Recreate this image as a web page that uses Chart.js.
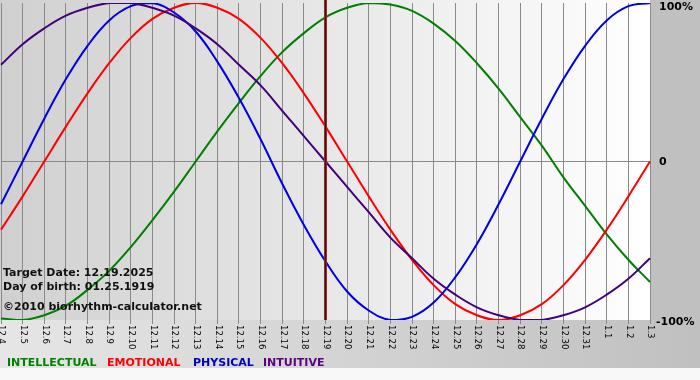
<!DOCTYPE html>
<html><head><meta charset="utf-8">
<script src="https://cdn.jsdelivr.net/npm/chart.js@4"></script>
<style>html,body{margin:0;padding:0;background:#fff;overflow:hidden}#wrap{width:700px;height:380px;position:relative}</style>
</head><body><div id="wrap"><canvas id="c" width="700" height="380"></canvas></div>
<script>
const dayLabels = ['12.4','12.5','12.6','12.7','12.8','12.9','12.10','12.11','12.12','12.13','12.14','12.15','12.16','12.17','12.18','12.19','12.20','12.21','12.22','12.23','12.24','12.25','12.26','12.27','12.28','12.29','12.30','12.31','1.1','1.2','1.3'];
const intellectual = [-99,-100,-97,-91,-81,-69,-54,-37,-19,0,19,37,54,69,81,91,97,100,99,95,87,76,62,46,28,10,-10,-28,-46,-62,-76];
const emotional = [-43,-22,0,22,43,62,78,90,97,100,97,90,78,62,43,22,0,-22,-43,-62,-78,-90,-97,-100,-97,-90,-78,-62,-43,-22,0];
const physical = [-27,0,27,52,73,89,98,100,94,82,63,40,14,-14,-40,-63,-82,-94,-100,-98,-89,-73,-52,-27,0,27,52,73,89,98,100];
const intuitive = [61,74,84,92,97,100,100,97,92,84,74,61,48,32,16,0,-16,-32,-48,-61,-74,-84,-92,-97,-100,-100,-97,-92,-84,-74,-61];
const seriesNames = ['INTELLECTUAL','EMOTIONAL','PHYSICAL','INTUITIVE'];
const targetLabel = '12.19';
const infoLines = ['Target Date: 12.19.2025','Day of birth: 01.25.1919','©2010 biorhythm-calculator.net'];
const yTickValues = [100, 0, -100];
const yTickLabels = ['100%', '0', '-100%'];

const lineColors = ['#008000', '#ff0000', '#0000e6', '#42007a'];
const legendColors = ['#008000', '#ff0000', '#0000c0', '#5a0080'];
const legendX = [7, 107, 193, 263];

const decor = {
  id: 'decor',
  beforeDraw(chart) {
    const ctx = chart.ctx, a = chart.chartArea;
    ctx.save();
    ctx.fillStyle = '#f8f8f8';
    ctx.fillRect(0, 0, 700, 380);
    let g = ctx.createLinearGradient(0, 0, 700, 0);
    g.addColorStop(0, '#e6e6e6'); g.addColorStop(1, '#c0c0c0');
    ctx.fillStyle = g;
    ctx.fillRect(0, a.bottom, 700, 368 - a.bottom);
    ctx.fillStyle = '#c0c0c0';
    ctx.fillRect(a.right, 0, 700 - a.right, a.bottom);
    g = ctx.createLinearGradient(a.left, 0, a.right, 0);
    g.addColorStop(0, '#d0d0d0'); g.addColorStop(1, '#ffffff');
    ctx.fillStyle = g;
    ctx.fillRect(0, 0, a.right, a.bottom);
    ctx.restore();
  },
  afterDatasetsDraw(chart) {
    const ctx = chart.ctx, a = chart.chartArea, xs = chart.scales.x;
    const x = xs.getPixelForValue(dayLabels.indexOf(targetLabel));
    ctx.save();
    ctx.strokeStyle = '#9a3a3a'; ctx.lineWidth = 3;
    ctx.beginPath(); ctx.moveTo(x, 0); ctx.lineTo(x, a.bottom); ctx.stroke();
    ctx.strokeStyle = '#5a0a0a'; ctx.lineWidth = 1.5;
    ctx.beginPath(); ctx.moveTo(x, 0); ctx.lineTo(x, a.bottom); ctx.stroke();
    ctx.restore();
  },
  afterDraw(chart) {
    const ctx = chart.ctx, a = chart.chartArea, xs = chart.scales.x, ys = chart.scales.y;
    ctx.save();
    ctx.fillStyle = '#000';
    ctx.font = '8.5px "DejaVu Sans"';
    ctx.textAlign = 'left'; ctx.textBaseline = 'middle';
    dayLabels.forEach((lab, i) => {
      const x = xs.getPixelForValue(i);
      ctx.save();
      ctx.translate(x + 0.5, a.bottom + 5);
      ctx.rotate(Math.PI / 2);
      ctx.fillText(lab, 0, 0);
      ctx.restore();
    });
    ctx.font = 'bold 11px "DejaVu Sans"';
    ctx.textBaseline = 'middle';
    const offs = [4, 1, 2];
    yTickValues.forEach((v, i) => {
      const y = ys.getPixelForValue(v) + offs[i];
      ctx.fillText(yTickLabels[i], yTickLabels[i].startsWith('-') ? 656 : 659, y);
    });
    ctx.textBaseline = 'alphabetic';
    ctx.fillStyle = '#111';
    ctx.fillText(infoLines[0], 3, 276);
    ctx.fillText(infoLines[1], 3, 290);
    ctx.fillText(infoLines[2], 3, 310);
    seriesNames.forEach((n, i) => {
      ctx.fillStyle = legendColors[i];
      ctx.fillText(n, legendX[i], 366);
    });
    ctx.restore();
  }
};

const series = [intuitive, physical, emotional, intellectual];
const sColors = [lineColors[3], lineColors[2], lineColors[1], lineColors[0]];
const names = [seriesNames[3], seriesNames[2], seriesNames[1], seriesNames[0]];

new Chart(document.getElementById('c'), {
  type: 'line',
  data: {
    labels: dayLabels,
    datasets: series.map((d, i) => ({
      label: names[i], data: d, borderColor: sColors[i], borderWidth: 2,
      pointRadius: 0, tension: 0.4, fill: false
    }))
  },
  options: {
    responsive: false, animation: false, devicePixelRatio: 1,
    layout: { padding: { left: 1, right: 50, top: 3, bottom: 56 } },
    plugins: { legend: { display: false }, tooltip: { enabled: false } },
    scales: {
      x: {
        offset: false,
        ticks: { display: false },
        border: { display: false },
        grid: { color: '#8a8a8a', lineWidth: 1, drawTicks: true, tickLength: 4, tickColor: '#8a8a8a' }
      },
      y: {
        position: 'right', min: -100, max: 100,
        afterBuildTicks(s) { s.ticks = yTickValues.map(v => ({ value: v })); },
        ticks: { display: false },
        border: { display: false },
        grid: { drawTicks: false, color: c => (c.tick && c.tick.value === 0) ? '#8a8a8a' : 'rgba(0,0,0,0)' }
      }
    }
  },
  plugins: [decor]
});
</script>
</body></html>
